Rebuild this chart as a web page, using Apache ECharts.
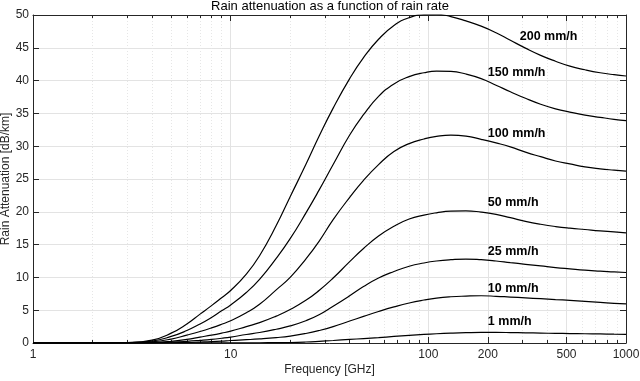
<!DOCTYPE html>
<html>
<head>
<meta charset="utf-8">
<script src="https://cdn.jsdelivr.net/npm/echarts@6/dist/echarts.min.js"></script>
<style>
html,body{margin:0;padding:0;background:#fff;}
#chart{width:640px;height:381px;}
</style>
</head>
<body>
<div id="chart"></div>
<script>
// ---- data ----
const freqs   = [1, 2, 3, 4, 5, 6, 7, 8, 9, 10, 12, 14, 17, 20, 24, 28, 33, 40, 47, 56, 67, 80, 95, 110, 130, 155, 185, 220, 260, 310, 370, 440, 520, 620, 740, 870, 1000];
const rate200 = [0, 0.01, 0.08, 0.45, 1.5, 2.9, 4.4, 5.7, 6.9, 8.0, 10.5, 13.3, 17.9, 22.3, 27.2, 31.5, 35.8, 40.3, 43.5, 46.3, 48.4, 49.6, 50.05, 50.1, 49.75, 49.1, 48.3, 47.3, 46.15, 44.95, 43.85, 42.95, 42.2, 41.65, 41.2, 40.9, 40.7];
const rate150 = [0, 0.01, 0.06, 0.3, 1.0, 1.9, 2.9, 3.9, 4.9, 5.8, 7.7, 9.7, 12.9, 15.9, 19.8, 23.3, 27.2, 31.7, 34.8, 37.6, 39.5, 40.6, 41.2, 41.45, 41.4, 41.0, 40.3, 39.3, 38.3, 37.3, 36.4, 35.7, 35.2, 34.75, 34.4, 34.1, 33.9];
const rate100 = [0, 0.01, 0.04, 0.18, 0.6, 1.2, 1.75, 2.3, 2.85, 3.4, 4.6, 5.9, 8.1, 10.0, 12.8, 15.5, 18.8, 22.2, 24.8, 27.2, 29.2, 30.4, 31.1, 31.5, 31.7, 31.55, 31.05, 30.5, 29.9, 29.1, 28.4, 27.75, 27.3, 26.85, 26.55, 26.35, 26.2];
const rate50  = [0, 0, 0.01, 0.06, 0.25, 0.55, 0.9, 1.2, 1.5, 1.8, 2.5, 3.1, 4.1, 5.1, 6.5, 8.0, 9.9, 12.4, 14.4, 16.3, 17.8, 18.9, 19.5, 19.85, 20.1, 20.15, 19.95, 19.6, 19.1, 18.55, 18.1, 17.75, 17.5, 17.3, 17.1, 16.95, 16.8];
const rate25  = [0, 0, 0, 0.03, 0.12, 0.25, 0.4, 0.55, 0.72, 0.9, 1.3, 1.6, 2.1, 2.6, 3.4, 4.3, 5.6, 7.2, 8.6, 9.9, 10.9, 11.7, 12.2, 12.5, 12.7, 12.8, 12.7, 12.5, 12.25, 12.0, 11.75, 11.5, 11.3, 11.1, 10.95, 10.85, 10.75];
const rate10  = [0, 0, 0, 0.01, 0.04, 0.08, 0.14, 0.2, 0.28, 0.38, 0.5, 0.62, 0.82, 1.05, 1.45, 1.9, 2.5, 3.35, 4.05, 4.8, 5.5, 6.1, 6.55, 6.85, 7.05, 7.15, 7.2, 7.12, 7.0, 6.88, 6.75, 6.62, 6.5, 6.35, 6.2, 6.05, 5.95];
const rate1   = [0, 0, 0, 0, 0, 0.005, 0.008, 0.01, 0.015, 0.02, 0.03, 0.04, 0.06, 0.08, 0.15, 0.25, 0.38, 0.55, 0.67, 0.82, 1.0, 1.17, 1.31, 1.41, 1.5, 1.57, 1.61, 1.61, 1.59, 1.55, 1.51, 1.47, 1.44, 1.41, 1.38, 1.35, 1.33];
const seriesNames  = ['200 mm/h', '150 mm/h', '100 mm/h', '50 mm/h', '25 mm/h', '10 mm/h', '1 mm/h'];
const seriesValues = [rate200, rate150, rate100, rate50, rate25, rate10, rate1];
const xMajorTicks = [1, 10, 100, 200, 500, 1000];
const xMinorTicks = [2, 3, 4, 5, 6, 7, 8, 9, 20, 30, 40, 50, 60, 70, 80, 90, 300, 400, 600, 700, 800, 900];
const yTicks = [0, 5, 10, 15, 20, 25, 30, 35, 40, 45, 50];

// annotation anchor points (frequency, attenuation) for the curve labels
const labelAnchors = [[290, 46.7], [200, 41.2], [200, 32.0], [200, 21.4], [200, 13.9], [200, 8.3], [200, 3.2]];

const axisColor = '#262626';
const gridColor = '#e3e3e3';
const font = 'Liberation Sans, Arial, Helvetica, sans-serif';

function xAxisCfg(pos, ticks, len, showLine, showLabel, split) {
  return {
    type: 'log', logBase: 10, min: 1, max: 1000, position: pos,
    axisLine: { show: showLine, lineStyle: { color: axisColor, width: 1 } },
    axisTick: { show: true, inside: true, length: len, customValues: ticks, lineStyle: { color: axisColor } },
    axisLabel: { show: showLabel, customValues: ticks, margin: 6, fontSize: 12, color: axisColor, fontFamily: font,
      formatter: v => String(Math.round(v)) },
    splitLine: split,
    minorTick: { show: false }, minorSplitLine: { show: false }
  };
}

const chart = echarts.init(document.getElementById('chart'), null, { renderer: 'canvas' });

const series = seriesNames.map((name, i) => ({
  name: name,
  type: 'line',
  xAxisIndex: 0, yAxisIndex: 0,
  data: freqs.map((f, j) => [f, seriesValues[i][j]]),
  showSymbol: false, symbol: 'none',
  smooth: 0.5,
  lineStyle: { color: '#000', width: 1.2 },
  silent: true,
  z: 5,
  markPoint: {
    symbol: 'circle', symbolSize: 0,
    silent: true,
    label: { show: true, position: 'right', distance: 0, formatter: name, fontSize: 12.5, fontWeight: 'bold', color: '#000', fontFamily: font },
    data: [{ coord: labelAnchors[i] }]
  }
}));

chart.setOption({
  animation: false,
  backgroundColor: '#fff',
  title: {
    text: 'Rain attenuation as a function of rain rate',
    left: 330, top: 0, textAlign: 'center', padding: 0,
    textStyle: { fontSize: 13, fontWeight: 'normal', color: '#000', fontFamily: font }
  },
  grid: { left: 33, right: 14, top: 15, bottom: 38, containLabel: false, outerBoundsMode: 'none' },
  xAxis: [
    Object.assign(xAxisCfg('bottom', xMajorTicks, 6, true, true, { show: true, lineStyle: { color: gridColor, width: 1, type: 'solid' } }), {
      name: 'Frequency [GHz]', nameLocation: 'middle', nameGap: 21, nameMoveOverlap: false,
      nameTextStyle: { fontSize: 12, color: axisColor, fontFamily: font }
    }),
    xAxisCfg('bottom', xMinorTicks, 3, false, false, { show: true, lineStyle: { color: '#e6e6e6', width: 1, type: [1, 2] } }),
    xAxisCfg('top', xMajorTicks, 6, true, false, { show: false }),
    xAxisCfg('top', xMinorTicks, 3, false, false, { show: false })
  ],
  yAxis: [
    {
      type: 'value', min: 0, max: 50, interval: 5, position: 'left',
      name: 'Rain Attenuation [dB/km]', nameLocation: 'middle', nameGap: 21, nameMoveOverlap: false,
      nameTextStyle: { fontSize: 12, color: axisColor, fontFamily: font },
      axisLine: { show: true, lineStyle: { color: axisColor, width: 1 } },
      axisTick: { show: true, inside: true, length: 6, lineStyle: { color: axisColor } },
      axisLabel: { margin: 4, fontSize: 12, color: axisColor, fontFamily: font,
        formatter: v => (yTicks.indexOf(v) >= 0 ? String(v) : '') },
      splitLine: { show: true, lineStyle: { color: gridColor, width: 1 } }
    },
    {
      type: 'value', min: 0, max: 50, interval: 5, position: 'right',
      axisLine: { show: true, lineStyle: { color: axisColor, width: 1 } },
      axisTick: { show: true, inside: true, length: 6, lineStyle: { color: axisColor } },
      axisLabel: { show: false },
      splitLine: { show: false }
    }
  ],
  series: series
});
</script>
</body>
</html>
